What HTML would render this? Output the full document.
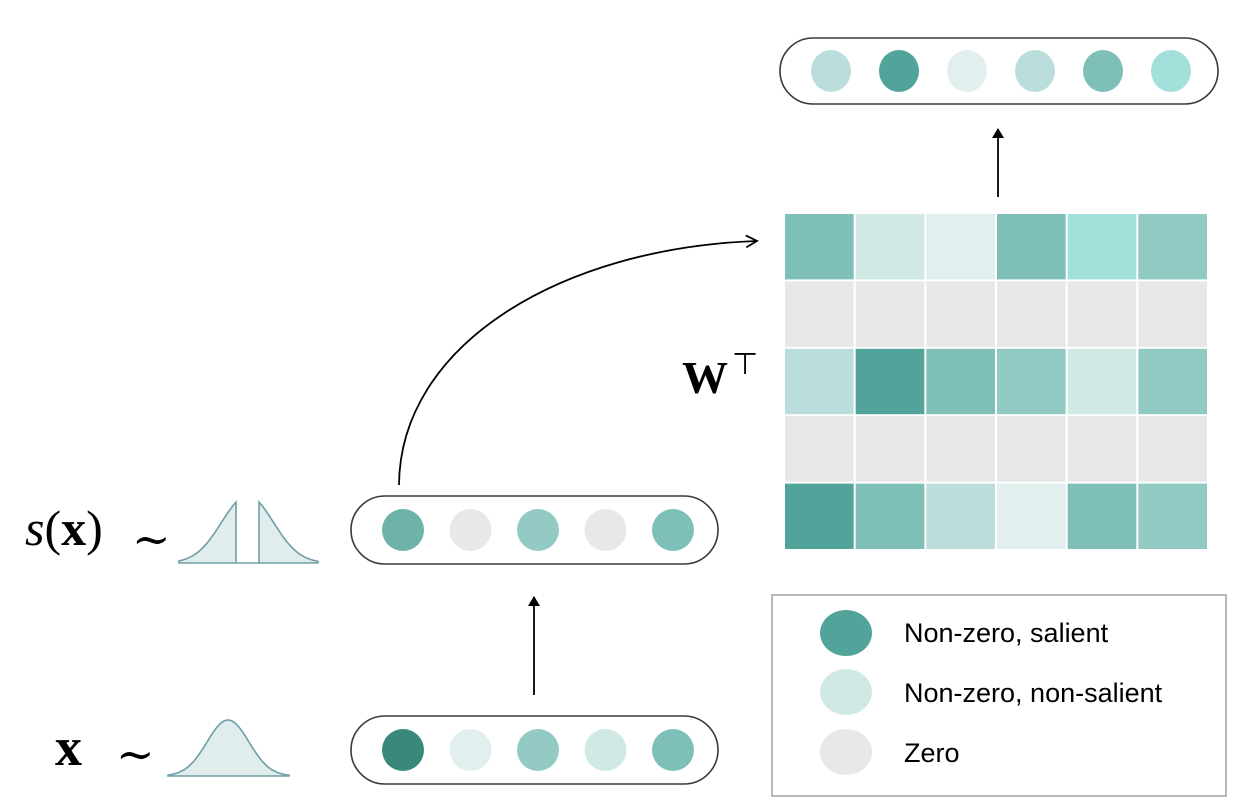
<!DOCTYPE html>
<html><head><meta charset="utf-8">
<style>
html,body{margin:0;padding:0;background:#fff;}
svg{display:block;}
.lbl{font-family:"Liberation Sans",sans-serif;font-size:27px;fill:#000;}
.math{font-family:"Liberation Serif",serif;fill:#000;}
.tl{font-family:"DejaVu Serif",serif;fill:#000;}
</style></head>
<body>
<svg id="fig" width="1258" height="810" viewBox="0 0 1258 810">
  <defs>
    <marker id="tri" markerWidth="10" markerHeight="12" refX="9" refY="6" orient="auto" markerUnits="userSpaceOnUse">
      <path d="M0,0 L10,6 L0,12 Z" fill="#000"/>
    </marker>
    <marker id="open" markerWidth="14" markerHeight="14" refX="12" refY="7" orient="auto" markerUnits="userSpaceOnUse">
      <path d="M1,1 L12,7 L1,13" fill="none" stroke="#000" stroke-width="1.8"/>
    </marker>
  </defs>

  <!-- labels -->
  <text class="math" x="25" y="545" font-size="50" font-style="italic">s<tspan font-style="normal">(</tspan><tspan font-style="normal" font-weight="bold">x</tspan><tspan font-style="normal">)</tspan></text>
  <text class="tl" x="132" y="555" font-size="46">∼</text>
  <text class="math" x="55" y="765" font-size="54" font-weight="bold">x</text>
  <text class="tl" x="116" y="770" font-size="46">∼</text>
  <text class="math" x="682" y="393" font-size="46" font-weight="bold">W</text>
  <text class="math" x="732" y="374" font-size="30">⊤</text>

  <!-- distributions -->
  <path id="sdist" fill="#e1ecec" stroke="#6f9fa6" stroke-width="1.6"/>
  <path id="xdist" fill="#e1ecec" stroke="#6f9fa6" stroke-width="1.6"/>

  <!-- pills -->
  <rect x="780" y="38" width="438" height="66" rx="33" fill="none" stroke="#3a3a3a" stroke-width="1.6"/>
  <rect x="351" y="496" width="367" height="68" rx="34" fill="none" stroke="#3a3a3a" stroke-width="1.6"/>
  <rect x="351" y="716" width="367" height="68" rx="34" fill="none" stroke="#3a3a3a" stroke-width="1.6"/>
  <g id="dots"></g>
  <g id="matrix"></g>

  <!-- arrows -->
  <line x1="534" y1="695" x2="534" y2="597" stroke="#000" stroke-width="1.8" marker-end="url(#tri)"/>
  <line x1="998" y1="197" x2="998" y2="129" stroke="#000" stroke-width="1.8" marker-end="url(#tri)"/>
  <path d="M399,485 C400,345 560,248 757,241" fill="none" stroke="#000" stroke-width="1.8" marker-end="url(#open)"/>

  <!-- legend -->
  <g>
    <rect x="772" y="595" width="454" height="201" fill="#fff" stroke="#a0a0a0" stroke-width="1.5"/>
    <ellipse cx="846" cy="633" rx="26" ry="23" fill="#52a39a"/>
    <text class="lbl" x="904" y="642">Non-zero, salient</text>
    <ellipse cx="846" cy="692" rx="26" ry="23" fill="#d0e9e5"/>
    <text class="lbl" x="904" y="702">Non-zero, non-salient</text>
    <ellipse cx="846" cy="752" rx="26" ry="23" fill="#e8e8e8"/>
    <text class="lbl" x="904" y="762">Zero</text>
  </g>
</svg>
<script>
const outColors = ["#bbdedc","#52a39a","#e1f0ef","#bbdedc","#7ec0b8","#a3e0db"];
const sparseColors = ["#6db3aa","#e8e8e8","#93cbc4","#e8e8e8","#7ec0b8"];
const inputColors = ["#3a877c","#e1f0ef","#93cbc4","#d0e9e5","#7ec0b8"];
const matrixRows = [
  ["#7ec0b8","#d0e9e5","#e1f0ef","#7ec0b8","#a3e0db","#91cac3"],
  ["#e7e7e7","#e7e7e7","#e7e7e7","#e7e7e7","#e7e7e7","#e7e7e7"],
  ["#bbdedc","#52a39a","#7ec0b8","#91cac3","#d0e9e5","#91cac3"],
  ["#e7e7e7","#e7e7e7","#e7e7e7","#e7e7e7","#e7e7e7","#e7e7e7"],
  ["#52a39a","#7ec0b8","#bbdedc","#e1f0ef","#7ec0b8","#91cac3"]
];
const NS="http://www.w3.org/2000/svg";
const dots=document.getElementById('dots');
function row(colors,x0,dx,cy,rx,ry,name){
  colors.forEach((c,i)=>{
    const e=document.createElementNS(NS,'ellipse');
    e.setAttribute('cx',x0+i*dx);e.setAttribute('cy',cy);
    e.setAttribute('rx',rx);e.setAttribute('ry',ry);e.setAttribute('fill',c);
    
    
    dots.appendChild(e);
  });
}
row(outColors,831,68,71,20,21,'output-element');
row(sparseColors,403,67.5,530,21,21,'sparse-element');
row(inputColors,403,67.5,750,21,21,'input-element');
const m=document.getElementById('matrix');
const mx=784,my=213,cw=424/6,ch=337/5;
matrixRows.forEach((r,ri)=>r.forEach((c,ci)=>{
  const e=document.createElementNS(NS,'rect');
  e.setAttribute('x',mx+ci*cw+1);e.setAttribute('y',my+ri*ch+1);
  e.setAttribute('width',cw-2);e.setAttribute('height',ch-2);e.setAttribute('fill',c);
  
  
  m.appendChild(e);
}));
function gauss(cx,base,h,sig,x0,x1,gap0,gap1){
  let d='';
  const pts=[];
  for(let x=x0;x<=x1;x+=1){
    let y=base-h*Math.exp(-((x-cx)**2)/(2*sig*sig));
    pts.push([x,y]);
  }
  if(gap0!==undefined){
    d='M'+x0+','+base;
    pts.forEach(p=>{ if(p[0]<=gap0) d+=' L'+p[0]+','+p[1].toFixed(1); });
    d+=' L'+gap0+','+base+' L'+gap1+','+base;
    pts.forEach(p=>{ if(p[0]>=gap1) d+=' L'+p[0]+','+p[1].toFixed(1); });
    d+=' L'+x1+','+base+' Z';
  } else {
    d='M'+x0+','+base;
    pts.forEach(p=>d+=' L'+p[0]+','+p[1].toFixed(1));
    d+=' L'+x1+','+base+' Z';
  }
  return d;
}
document.getElementById('sdist').setAttribute('d',gauss(247.5,563,67,26,179,318,236,259));
document.getElementById('xdist').setAttribute('d',gauss(228,776,56,21,168,289));
</script>
</body></html>
